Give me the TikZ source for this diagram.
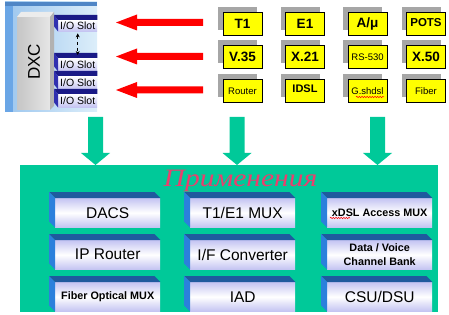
\documentclass[tikz,border=0pt]{standalone}
\usepackage{fontspec}
\setmainfont{Liberation Sans}
\newfontfamily\titlefont{Liberation Serif}
\usetikzlibrary{calc,arrows.meta,decorations.pathmorphing}
\definecolor{grn}{HTML}{00C999}
\definecolor{ttl}{HTML}{E8406E}
\definecolor{apptop}{HTML}{1F5A9E}
\definecolor{appleft}{HTML}{2B80DC}
\definecolor{applav}{HTML}{C4C4F2}
\definecolor{yel}{HTML}{FFFF00}
\definecolor{yshadow}{HTML}{A6A6A6}
\definecolor{navy}{HTML}{1A1A86}
\definecolor{navyl}{HTML}{3030B0}
\definecolor{panl}{HTML}{9CC6EE}
\definecolor{panr}{HTML}{DCEEFA}
\definecolor{panstrip}{HTML}{6AA6E6}
\definecolor{pantop}{HTML}{4F86C6}
\begin{document}
\begin{tikzpicture}[x=1pt,y=-1pt,
  ybox/.style={draw=black, line width=0.6pt, fill=yel, minimum width=39, minimum height=23, inner sep=0pt, font=\bfseries\fontsize{13.5}{14}\selectfont},
  ysmall/.style={font=\fontsize{9.5}{10}\selectfont},
  appfront/.style={anchor=north west, minimum width=105, minimum height=29, inner sep=0pt, top color=applav, bottom color=applav, middle color=white, font=\fontsize{15.5}{16}\selectfont, align=center},
  appbold/.style={font=\bfseries\fontsize{10.8}{14.5}\selectfont},
  slotfront/.style={anchor=north west, minimum width=39, inner sep=0pt, top color=white, bottom color=applav, font=\fontsize{10.5}{11}\selectfont},
  redarrow/.style={fill=red},
  greenarrow/.style={fill=grn},
  squig/.style={draw=red, line width=0.5pt, decorate, decoration={snake, amplitude=0.7pt, segment length=2.6pt}}
]
\useasboundingbox (0,0) rectangle (449,315);

% ---------- DXC panel ----------
\shade[left color=panl, right color=panr] (5,2) rectangle (97,112);
\fill[panstrip] (5,2) rectangle (13,112);
\fill[pantop] (5,2) rectangle (97,6);
% gray column
\shade[left color=gray!45, right color=gray!20] (17,17) rectangle (50,110);
\fill[gray!15] (17,17) -- (21,12) -- (54,12) -- (50,17) -- cycle;
\fill[gray!60] (50,17) -- (54,12) -- (54,106) -- (50,110) -- cycle;
\node[rotate=90, font=\fontsize{17}{17}\selectfont] (dxc) at (34,62) {DXC};

% I/O slots
\node[slotfront, minimum height=11] (s1) at (58,20) {I/O Slot};
\node[slotfront, minimum height=13] (s2) at (58,58) {I/O Slot};
\node[slotfront, minimum height=13] (s3) at (58,76) {I/O Slot};
\node[slotfront, minimum height=13] (s4) at (58,94) {I/O Slot};
\foreach \s in {s1,s2,s3,s4}{
  \fill[navy] (\s.north west) -- ++(-4,-5) -- ([yshift=5pt]\s.north east) -- (\s.north east) -- cycle;
  \fill[navyl] (\s.north west) -- ++(-4,-5) -- ([xshift=-4pt,yshift=5pt]\s.south west) -- (\s.south west) -- cycle;
}
\draw[dashed, line width=0.6pt, {Stealth[length=4pt,width=4pt]}-{Stealth[length=4pt,width=4pt]}] ([yshift=-2pt]s1.south) -- ([yshift=3pt]s2.north);

% ---------- red arrows ----------
\foreach \c in {22.5,56.5,90}{
  \fill[redarrow] (203,\c-3.5) -- (137,\c-3.5) -- (137,\c-8) -- (116,\c) -- (137,\c+8) -- (137,\c+3.5) -- (203,\c+3.5) -- cycle;
}

% ---------- yellow boxes ----------
\foreach \x in {242.5,305,367.5,426}{
  \foreach \y in {23.5,57,91}{
    \fill[yshadow] (\x-24.5,\y-16.5) rectangle (\x+14.5,\y+6.5);
  }
}
\node[ybox] (t1) at (242.5,23.5) {T1};
\node[ybox] (e1) at (305,23.5) {E1};
\node[ybox] (amu) at (367.5,23.5) {A/μ};
\node[ybox, font=\bfseries\fontsize{11.5}{12}\selectfont] (pots) at (426,23.5) {\raisebox{2pt}{POTS}};
\node[ybox] (v35) at (242.5,57) {V.35};
\node[ybox] (x21) at (305,57) {X.21};
\node[ybox, ysmall] (rs) at (367.5,57) {RS-530};
\node[ybox] (x50) at (426,57) {X.50};
\node[ybox, ysmall] (router) at (242.5,91) {\raisebox{-3pt}{Router}};
\node[ybox, font=\bfseries\fontsize{11}{12}\selectfont] (idsl) at (305,91) {\raisebox{4pt}{IDSL}};
\node[ybox, ysmall] (gsh) at (367.5,91) {\raisebox{-2pt}{G.shdsl}};
\node[ybox, ysmall] (fiber) at (426,91) {\raisebox{-2pt}{Fiber}};
\draw[squig] (356,97) -- (384,97);

% ---------- green arrows ----------
\foreach \c in {95.5,237,377.5}{
  \fill[greenarrow] (\c-7.5,117) -- (\c+7.5,117) -- (\c+7.5,153) -- (\c+14.5,153) -- (\c,165) -- (\c-14.5,153) -- (\c-7.5,153) -- cycle;
}

% ---------- green panel ----------
\fill[grn] (20,165) rectangle (438,312);
\node[font=\titlefont\itshape\fontsize{25}{25}\selectfont, text=ttl, anchor=base, inner sep=0pt] (title) at (240.5,186) {\scalebox{1.18}[1]{Применения}};

\node[appfront] (dacs) at (55,198) {DACS};
\node[appfront] (t1e1) at (190,198) {T1/E1 MUX};
\node[appfront, appbold] (xdsl) at (327,198) {xDSL Access MUX};
\node[appfront] (iprouter) at (55,240) {IP Router};
\node[appfront] (ifconv) at (190,240) {I/F Converter};
\node[appfront, appbold] (dvcb) at (327,240) {Data / Voice\\Channel Bank};
\node[appfront, appbold] (fom) at (55,282) {Fiber Optical MUX};
\node[appfront] (iad) at (190,282) {IAD};
\node[appfront] (csu) at (327,282) {CSU/DSU};
\foreach \n in {dacs,t1e1,xdsl,iprouter,ifconv,dvcb,fom,iad,csu}{
  \fill[apptop] (\n.north west) -- ++(-6,-6) -- ([xshift=-6pt,yshift=6pt]\n.north east) -- (\n.north east) -- cycle;
  \fill[appleft] (\n.north west) -- ++(-6,-6) -- ([xshift=-6pt,yshift=6pt]\n.south west) -- (\n.south west) -- cycle;
}
\draw[squig] (330,218) -- (350,218);

\end{tikzpicture}
\end{document}
